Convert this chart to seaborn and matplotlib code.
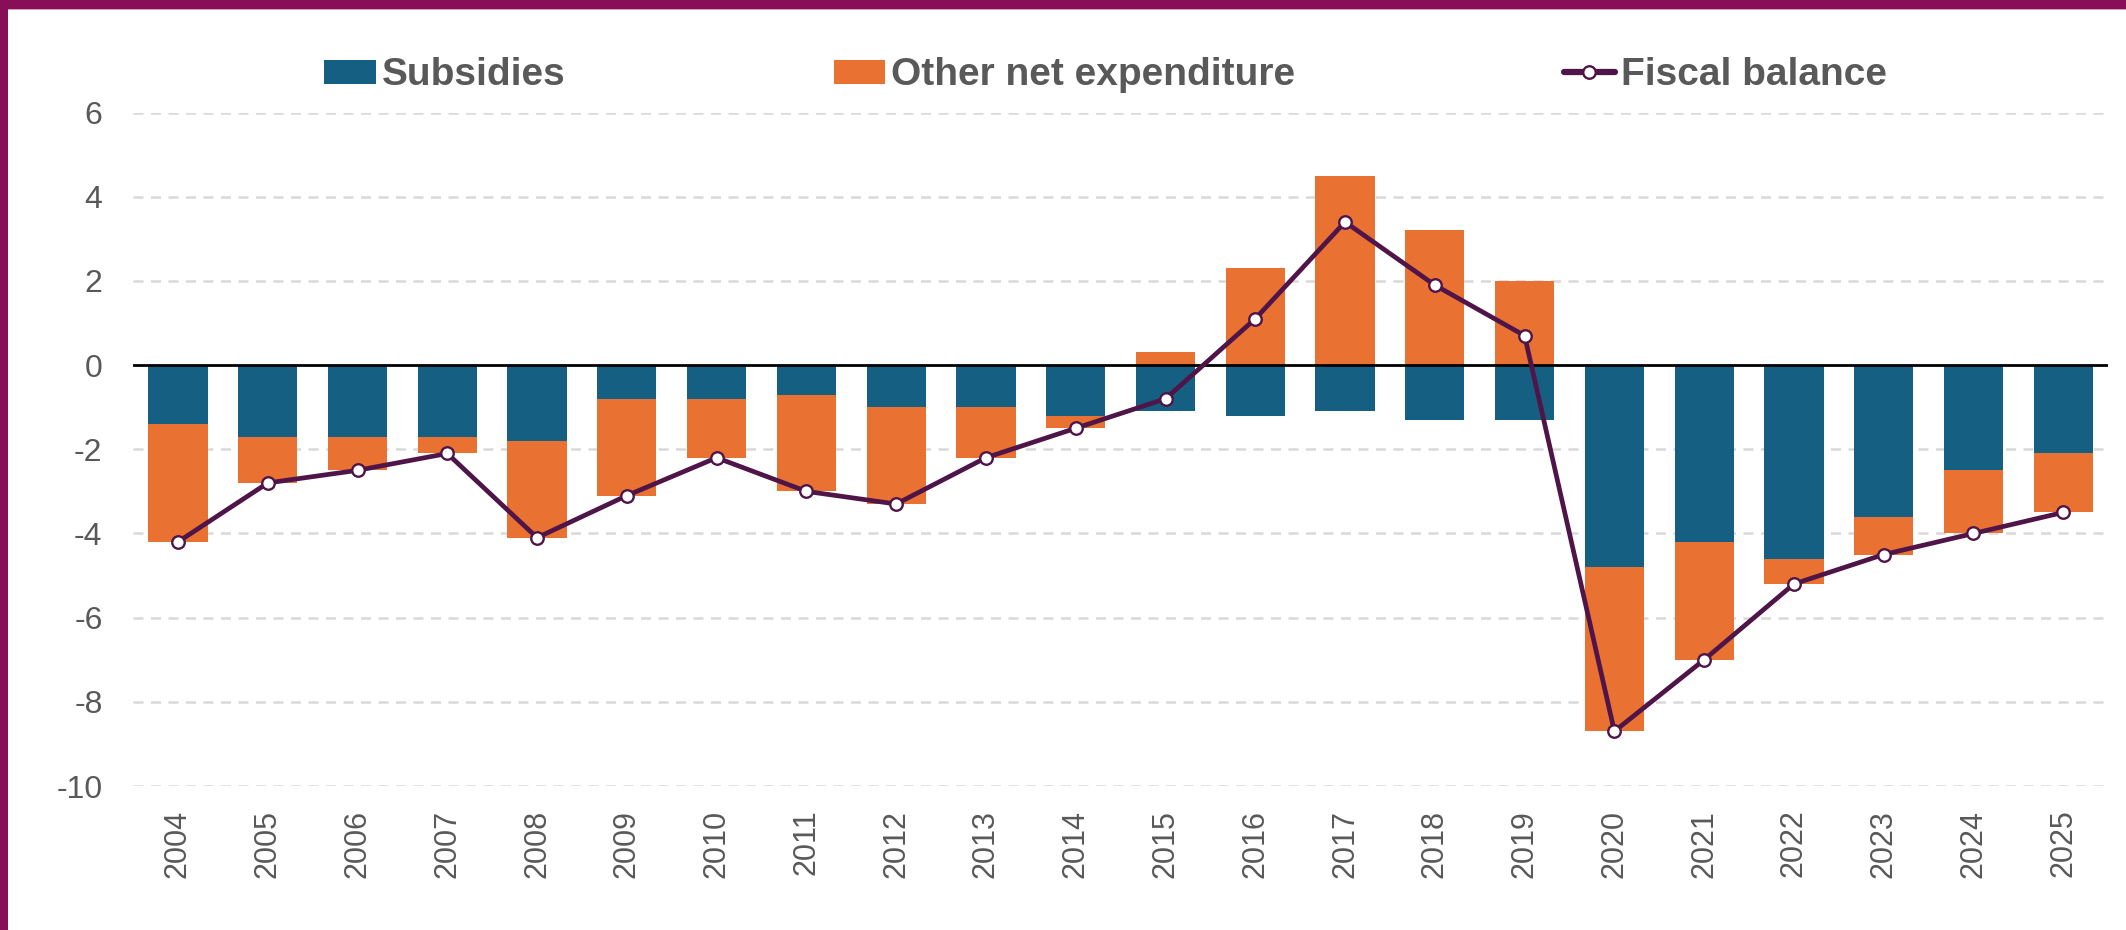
import numpy as np
import pandas as pd
import matplotlib
matplotlib.use("Agg")
import matplotlib.pyplot as plt
import seaborn as sns
from matplotlib.patches import Patch, Rectangle
from matplotlib.lines import Line2D

years = [str(y) for y in range(2004, 2026)]
subsidies = [-1.4, -1.7, -1.7, -1.7, -1.8, -0.8, -0.8, -0.7, -1.0, -1.0, -1.2,
             -1.1, -1.2, -1.1, -1.3, -1.3, -4.8, -4.2, -4.6, -3.6, -2.5, -2.1]
other_net = [-2.8, -1.1, -0.8, -0.4, -2.3, -2.3, -1.4, -2.3, -2.3, -1.2, -0.3,
             0.3, 2.3, 4.5, 3.2, 2.0, -3.9, -2.8, -0.6, -0.9, -1.5, -1.4]
fiscal_balance = [-4.2, -2.8, -2.5, -2.1, -4.1, -3.1, -2.2, -3.0, -3.3, -2.2, -1.5,
                  -0.8, 1.1, 3.4, 1.9, 0.7, -8.7, -7.0, -5.2, -4.5, -4.0, -3.5]
y_ticks = [6, 4, 2, 0, -2, -4, -6, -8, -10]

C_SUB = "#156082"
C_OTH = "#E97132"
C_LINE = "#4F1548"
C_TXT = "#595959"
C_BORDER = "#870E57"

sns.set_theme(style="white")
plt.rcParams["font.family"] = ["Liberation Sans Narrow", "Liberation Sans", "DejaVu Sans"]

sub = np.array(subsidies)
oth = np.array(other_net)
# extent of the orange segment measured from zero (stacked below subsidies when negative)
oth_extent = np.where(oth < 0, sub + oth, oth)

df = pd.DataFrame({"year": years, "sub": sub, "oth_extent": oth_extent,
                   "balance": fiscal_balance})

fig = plt.figure(figsize=(21.26, 9.30), dpi=100)
ax = fig.add_axes([0.0626, 0.1548, 0.929, 0.7242])

sns.barplot(data=df, x="year", y="oth_extent", color=C_OTH, saturation=1,
            width=0.66, ax=ax, zorder=2, linewidth=0)
sns.barplot(data=df, x="year", y="sub", color=C_SUB, saturation=1,
            width=0.66, ax=ax, zorder=3, linewidth=0)
sns.lineplot(x=np.arange(len(years)), y=df["balance"], ax=ax, color=C_LINE,
             lw=3.4, marker="o", markersize=9, markerfacecolor="white",
             markeredgecolor=C_LINE, markeredgewidth=1.7, zorder=5)

ax.set_xlim(-0.5, len(years) - 0.5)
ax.set_ylim(-10, 6)
ax.set_yticks(y_ticks)
ax.set_yticklabels([str(t) for t in y_ticks])
for t in y_ticks:
    if t != 0:
        ax.axhline(t, color="#D9D9D9", lw=1.8, ls=(0, (4, 3)), zorder=1)
ax.axhline(0, color="black", lw=2, zorder=4)

ax.set_xlabel("")
ax.set_ylabel("")
for s in ax.spines.values():
    s.set_visible(False)
ax.tick_params(axis="y", length=0, pad=22, labelsize=23, labelcolor=C_TXT)
ax.tick_params(axis="x", length=0, pad=17, labelsize=22, labelcolor=C_TXT,
               rotation=90)
for lab in ax.get_xticklabels():
    lab.set_family(["Liberation Sans", "DejaVu Sans"])

handles = [Patch(facecolor=C_SUB, edgecolor="none"),
           Patch(facecolor=C_OTH, edgecolor="none"),
           Line2D([0], [0], color=C_LINE, lw=4.5, marker="o", markersize=9,
                  markerfacecolor="white", markeredgecolor=C_LINE,
                  markeredgewidth=1.7)]
labels = ["Subsidies", "Other net expenditure", "Fiscal balance"]
leg = fig.legend(handles, labels, loc="center", bbox_to_anchor=(0.52, 0.919),
                 ncol=3, frameon=False, handlelength=1.33, handleheight=0.58,
                 handletextpad=0.15, columnspacing=6.9,
                 prop={"size": 28, "weight": "bold",
                       "family": ["Liberation Sans Narrow", "Liberation Sans", "DejaVu Sans"]})
for t in leg.get_texts():
    t.set_color(C_TXT)

# purple frame on top and left
fig.patches.append(Rectangle((0, 1 - 9 / 930), 1, 9 / 930, transform=fig.transFigure,
                             facecolor=C_BORDER, edgecolor="none", zorder=10))
fig.patches.append(Rectangle((0, 1 - 10 / 930), 1, 1 / 930, transform=fig.transFigure,
                             facecolor="#D9A0C0", edgecolor="none", zorder=10))
fig.patches.append(Rectangle((0, 0), 8 / 2126, 1, transform=fig.transFigure,
                             facecolor=C_BORDER, edgecolor="none", zorder=10))

fig.savefig("out.png", dpi=100)
